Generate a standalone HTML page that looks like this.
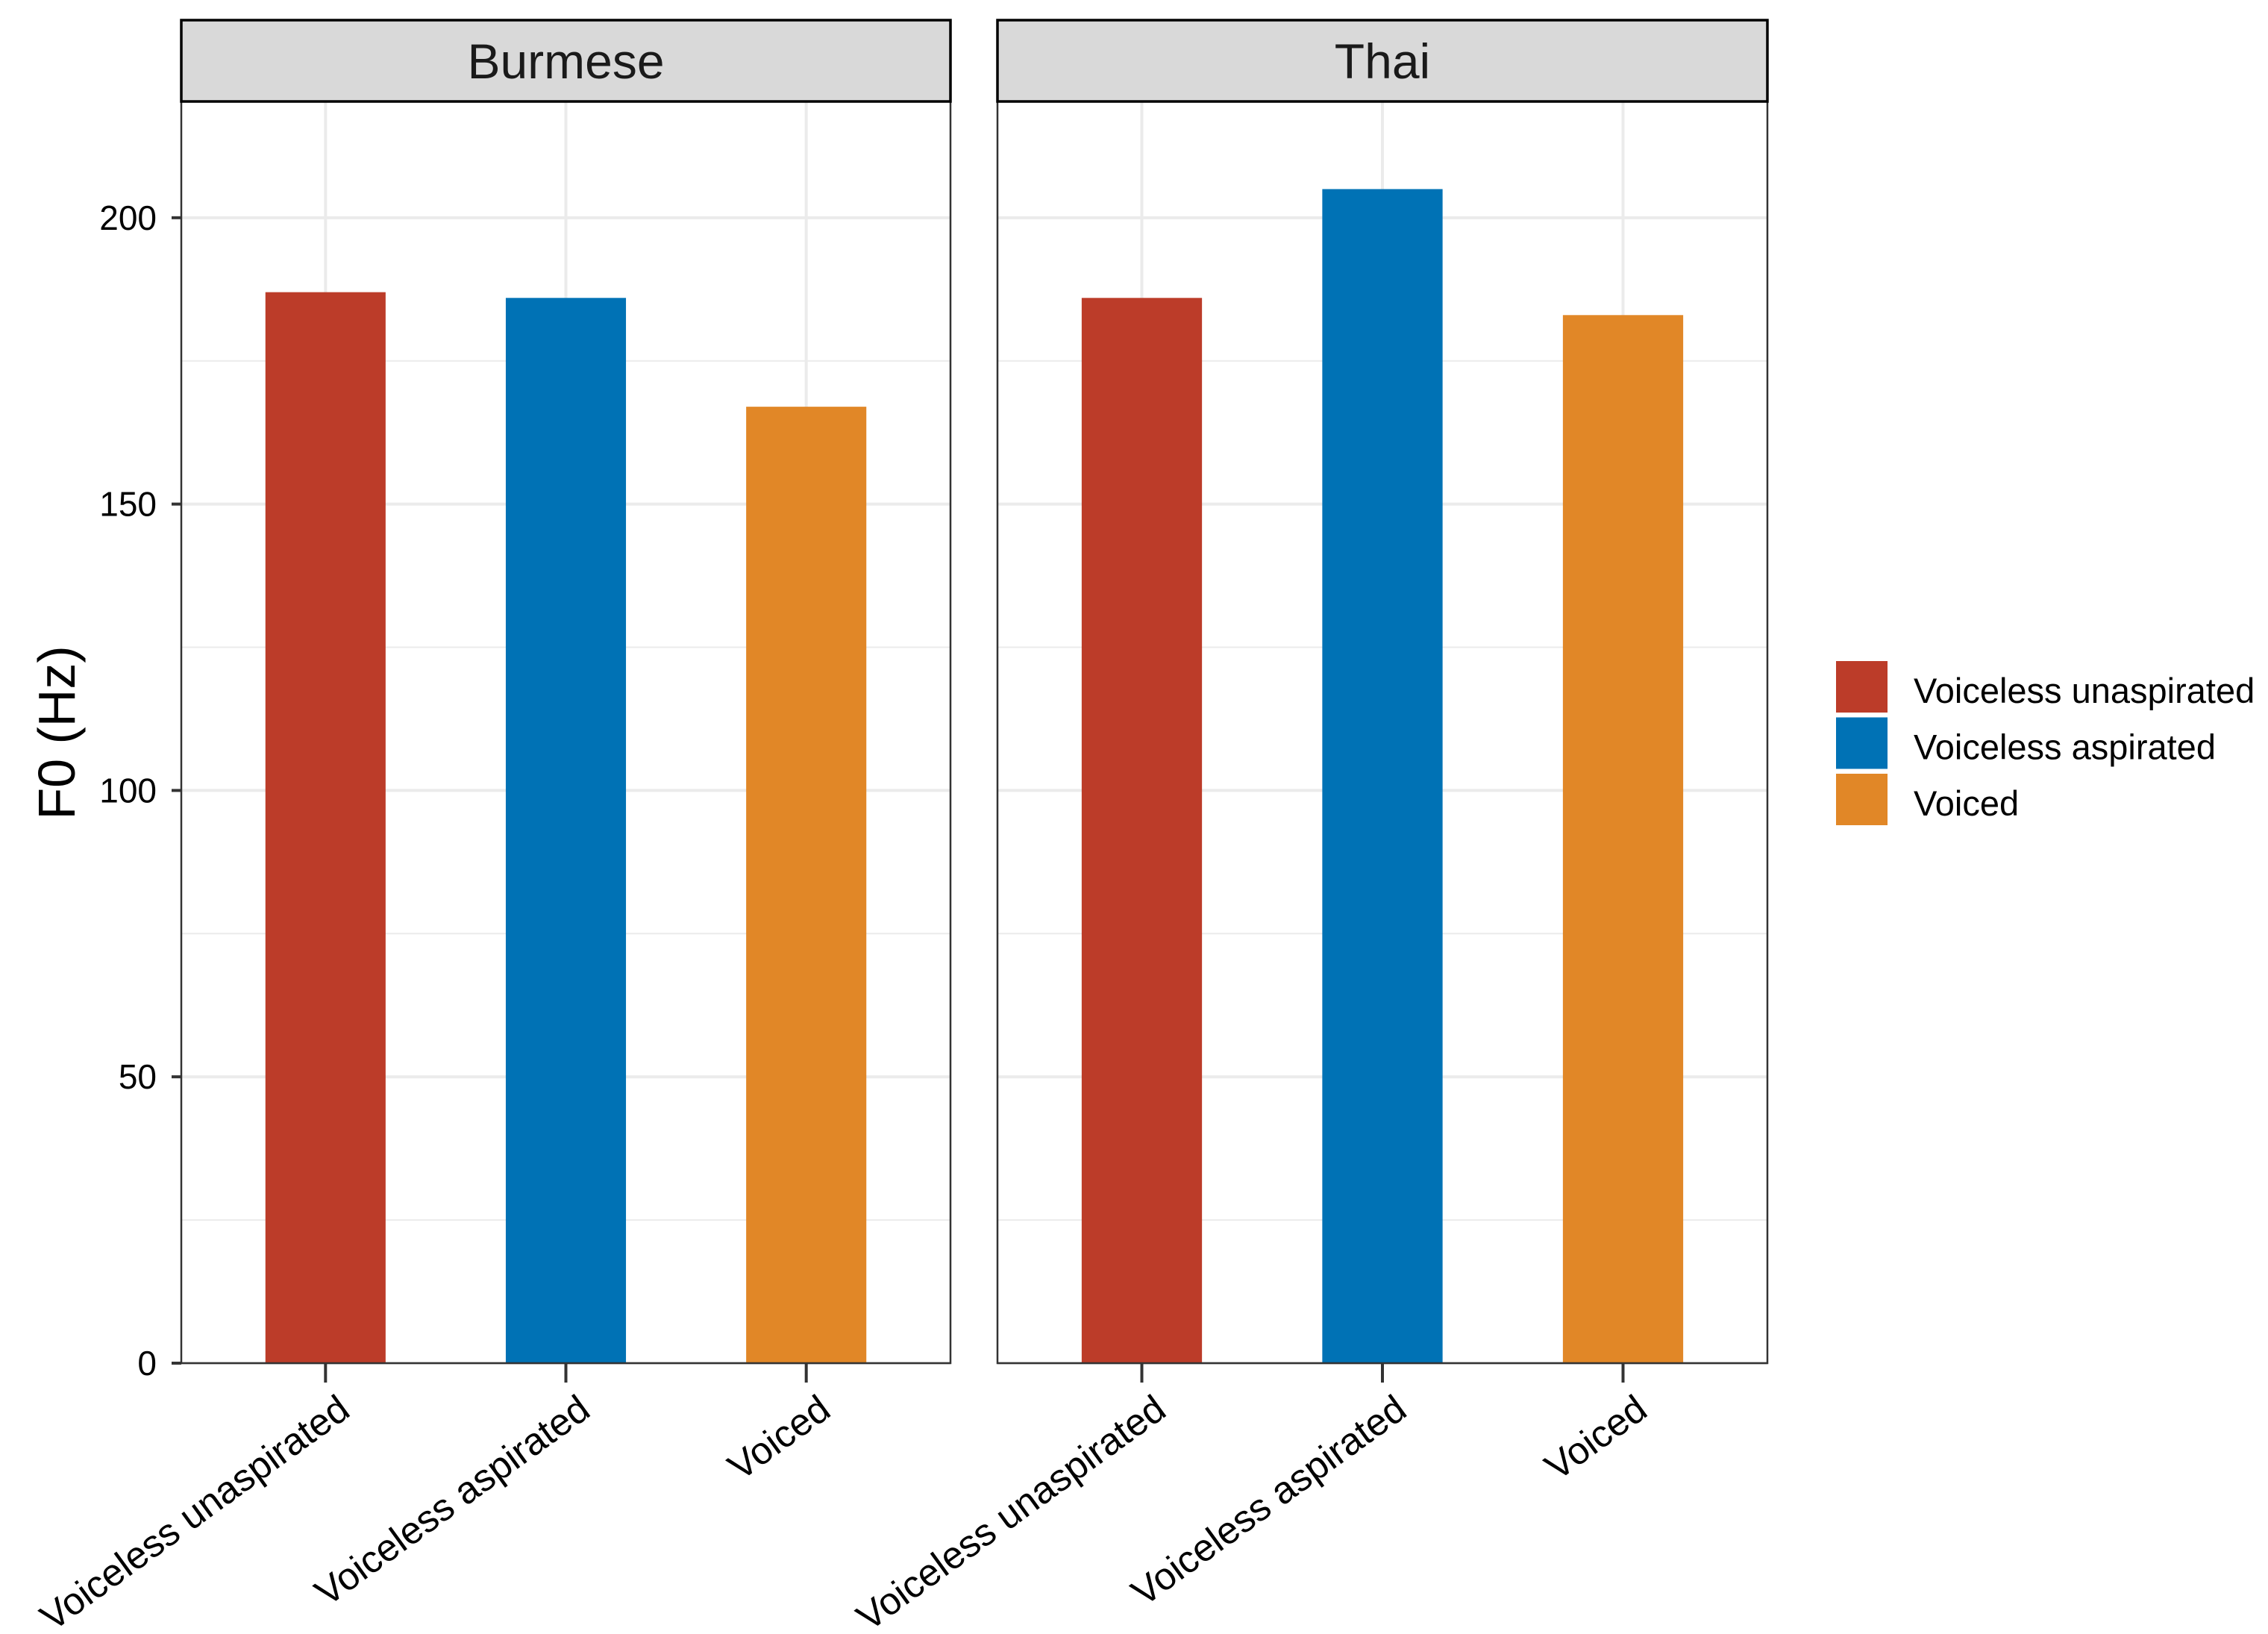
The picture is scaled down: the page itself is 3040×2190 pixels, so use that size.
<!DOCTYPE html>
<html><head><meta charset="utf-8"><style>
html,body{margin:0;padding:0;background:#fff;}
svg{display:block;font-family:"Liberation Sans",Arial,sans-serif;}
</style></head><body>
<svg id="chart" width="3040" height="2190" viewBox="0 0 3040 2190" xmlns="http://www.w3.org/2000/svg">
<g id="root"></g>
</svg>
<script>
const categories = ["Voiceless unaspirated", "Voiceless aspirated", "Voiced"];
const panels = ["Burmese", "Thai"];
const burmeseValues = [187, 186, 167];
const thaiValues = [186, 205, 183];
const yTicks = [0, 50, 100, 150, 200];
const yMinor = [25, 75, 125, 175];
const colors = ["#bc3c29", "#0072b5", "#e18727"];

const NS = "http://www.w3.org/2000/svg";
const root = document.getElementById('root');
const panelX = [[243, 1274], [1337, 2369]];
const plotTop = 136, plotBottom = 1827, yMax = 220.3;
function yScale(v){ return plotBottom - v * (plotBottom - plotTop) / yMax; }
function xScale(p, i){ const [a,b] = panelX[p]; return a + (i + 1 - 0.4) * (b - a) / 3.2; }
function mk(tag, attrs, parent){ const e = document.createElementNS(NS, tag); for (const k in attrs) e.setAttribute(k, attrs[k]); (parent||root).appendChild(e); return e; }

const valuesByPanel = [burmeseValues, thaiValues];
panels.forEach((name, p) => {
  const [x0, x1] = panelX[p];
  const g = mk('g', {});
  
  
  yMinor.forEach(v => { const l = mk('line', {x1:x0, x2:x1, y1:yScale(v), y2:yScale(v), stroke:'#ebebeb', 'stroke-width':2}, g);
      });
  yTicks.forEach(v => { const l = mk('line', {x1:x0, x2:x1, y1:yScale(v), y2:yScale(v), stroke:'#ebebeb', 'stroke-width':4}, g);
      });
  categories.forEach((c, i) => { const l = mk('line', {x1:xScale(p,i), x2:xScale(p,i), y1:plotTop, y2:plotBottom, stroke:'#ebebeb', 'stroke-width':4}, g);
      });
  const bw = 0.5 * (x1 - x0) / 3.2;
  valuesByPanel[p].forEach((v, i) => {
    const r = mk('rect', {x:xScale(p,i) - bw/2, y:yScale(v), width:bw, height:yScale(0) - yScale(v), fill:colors[i]}, g);
    
    
  });
  const b = mk('rect', {x:x0, y:plotTop, width:x1-x0, height:plotBottom-plotTop, fill:'none', stroke:'#333', 'stroke-width':2.5}, g);
   
  const s = mk('rect', {x:x0, y:27, width:x1-x0, height:plotTop-27, fill:'#d9d9d9', stroke:'#000', 'stroke-width':3.5}, g);
   
  const st = mk('text', {x:(x0+x1)/2, y:105, 'text-anchor':'middle', 'font-size':66, fill:'#1a1a1a'}, g);
  st.textContent = name;
   
  categories.forEach((c, i) => {
    const x = xScale(p, i);
    const t = mk('line', {x1:x, x2:x, y1:plotBottom, y2:plotBottom+26, stroke:'#333', 'stroke-width':4}, g);
     
    const lx = x + 14, ly = 1866;
    const tx = mk('text', {x:lx, y:ly, 'text-anchor':'end', 'dominant-baseline':'hanging', 'font-size':51, fill:'#000', transform:'rotate(-36 ' + lx + ' ' + ly + ')'}, g);
    tx.textContent = c;
     
  });
});
yTicks.forEach(v => {
  const t = mk('line', {x1:230, x2:243, y1:yScale(v), y2:yScale(v), stroke:'#333', 'stroke-width':4});
   
  const tx = mk('text', {x:210, y:yScale(v) + 16, 'text-anchor':'end', 'font-size':46, fill:'#000'});
  tx.textContent = String(v);
   
});
const yt = mk('text', {x:0, y:0, 'text-anchor':'middle', 'font-size':70, fill:'#000', transform:'translate(100 982) rotate(-90)'});
yt.textContent = 'F0 (Hz)';
 
const lg = mk('g', {});
 
categories.forEach((c, i) => {
  const y = 886 + i * 75.5;
  const r = mk('rect', {x:2461, y:y, width:69, height:69, fill:colors[i]}, lg);
   
  const t = mk('text', {x:2565, y:y + 56, 'font-size':47, fill:'#000'}, lg);
  t.textContent = c;
   
});
</script>
</body></html>
